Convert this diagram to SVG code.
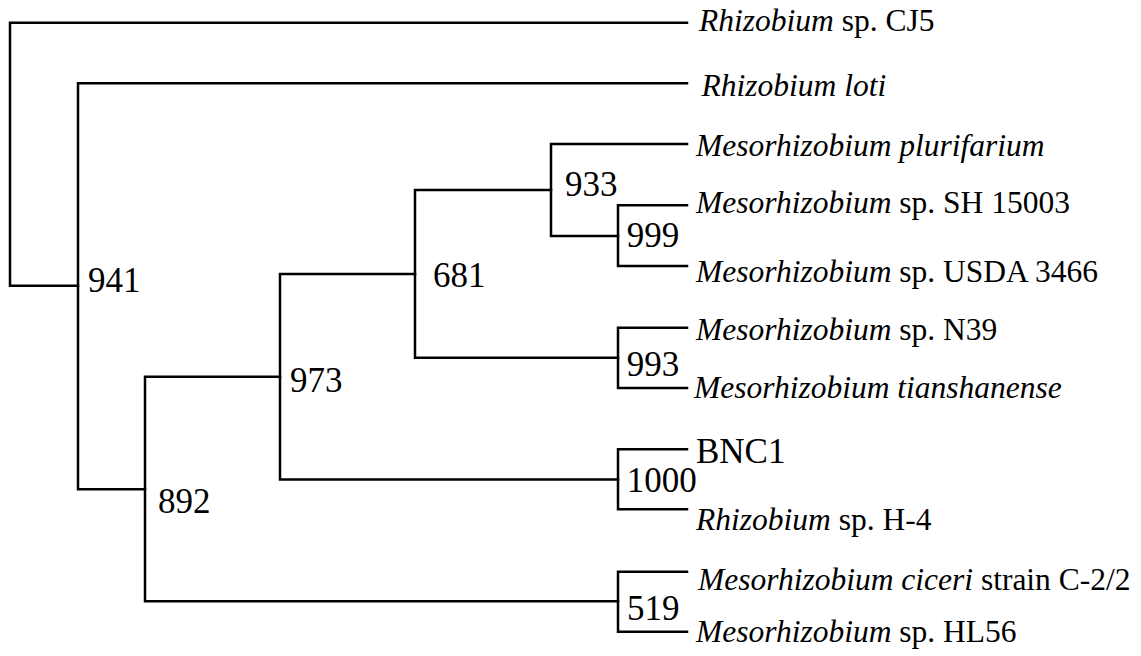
<svg xmlns="http://www.w3.org/2000/svg" width="1141" height="656" viewBox="0 0 1141 656">
  <style>
    .br { fill: none; stroke: #000; stroke-width: 2.5; stroke-linecap: square; stroke-linejoin: miter; }
    .leaf { font-family: "Liberation Serif", "Times New Roman", serif; font-size: 31.5px; fill: #000; }
    .boot { font-family: "Liberation Serif", "Times New Roman", serif; font-size: 35px; fill: #000; }
    .it { font-style: italic; }
  </style>
  <rect width="1141" height="656" fill="#fff"/>

  <!-- tree branches -->
  <g id="connectors">
    <!-- root -->
    <path class="br" d="M687,22.7 H10 V285.7 H78"/>
    <!-- 941 -->
    <path class="br" d="M687,83.3 H78 V489.3 H145"/>
    <!-- 892 -->
    <path class="br" d="M280,376.7 H145 V601.3 H618"/>
    <!-- 973 -->
    <path class="br" d="M415,274 H280 V479.5 H618"/>
    <!-- 681 -->
    <path class="br" d="M551,190 H415 V357.7 H618"/>
    <!-- 933 -->
    <path class="br" d="M687,144 H551 V236 H618"/>
    <!-- 999 -->
    <path class="br" d="M687,205.3 H618 V266 H687"/>
    <!-- 993 -->
    <path class="br" d="M687,327.7 H618 V388 H687"/>
    <!-- 1000 -->
    <path class="br" d="M687,449.3 H618 V509.3 H687"/>
    <!-- 519 -->
    <path class="br" d="M687,571.7 H618 V631.7 H687"/>
  </g>

  <!-- leaves -->
  <g id="leaf-cj5"><text class="leaf" x="699" y="30.7"><tspan class="it">Rhizobium</tspan> sp. CJ5</text></g>
  <g id="leaf-loti"><text class="leaf it" x="701.5" y="96">Rhizobium loti</text></g>
  <g id="leaf-plurifarium"><text class="leaf it" x="696" y="156">Mesorhizobium plurifarium</text></g>
  <g id="leaf-sh15003"><text class="leaf" x="696" y="213.3"><tspan class="it">Mesorhizobium</tspan> sp. SH 15003</text></g>
  <g id="leaf-usda3466"><text class="leaf" x="696" y="281.7"><tspan class="it">Mesorhizobium</tspan> sp. USDA 3466</text></g>
  <g id="leaf-n39"><text class="leaf" x="696" y="340"><tspan class="it">Mesorhizobium</tspan> sp. N39</text></g>
  <g id="leaf-tianshanense"><text class="leaf it" x="694" y="398.3">Mesorhizobium tianshanense</text></g>
  <g id="leaf-bnc1"><text class="boot" x="696" y="463.3">BNC1</text></g>
  <g id="leaf-h4"><text class="leaf" x="696" y="530"><tspan class="it">Rhizobium</tspan> sp. H-4</text></g>
  <g id="leaf-ciceri"><text class="leaf" x="698" y="590"><tspan class="it">Mesorhizobium ciceri</tspan> strain C-2/2</text></g>
  <g id="leaf-hl56"><text class="leaf" x="696" y="641.7"><tspan class="it">Mesorhizobium</tspan> sp. HL56</text></g>

  <!-- bootstrap support values -->
  <g id="node-941"><text class="boot" x="88" y="292">941</text></g>
  <g id="node-892"><text class="boot" x="158" y="513">892</text></g>
  <g id="node-973"><text class="boot" x="290" y="392">973</text></g>
  <g id="node-681"><text class="boot" x="433" y="286.7">681</text></g>
  <g id="node-933"><text class="boot" x="565" y="196">933</text></g>
  <g id="node-999"><text class="boot" x="626.7" y="246.7">999</text></g>
  <g id="node-993"><text class="boot" x="626.7" y="376">993</text></g>
  <g id="node-1000"><text class="boot" x="626.7" y="491.7">1000</text></g>
  <g id="node-519"><text class="boot" x="627" y="620">519</text></g>
</svg>
